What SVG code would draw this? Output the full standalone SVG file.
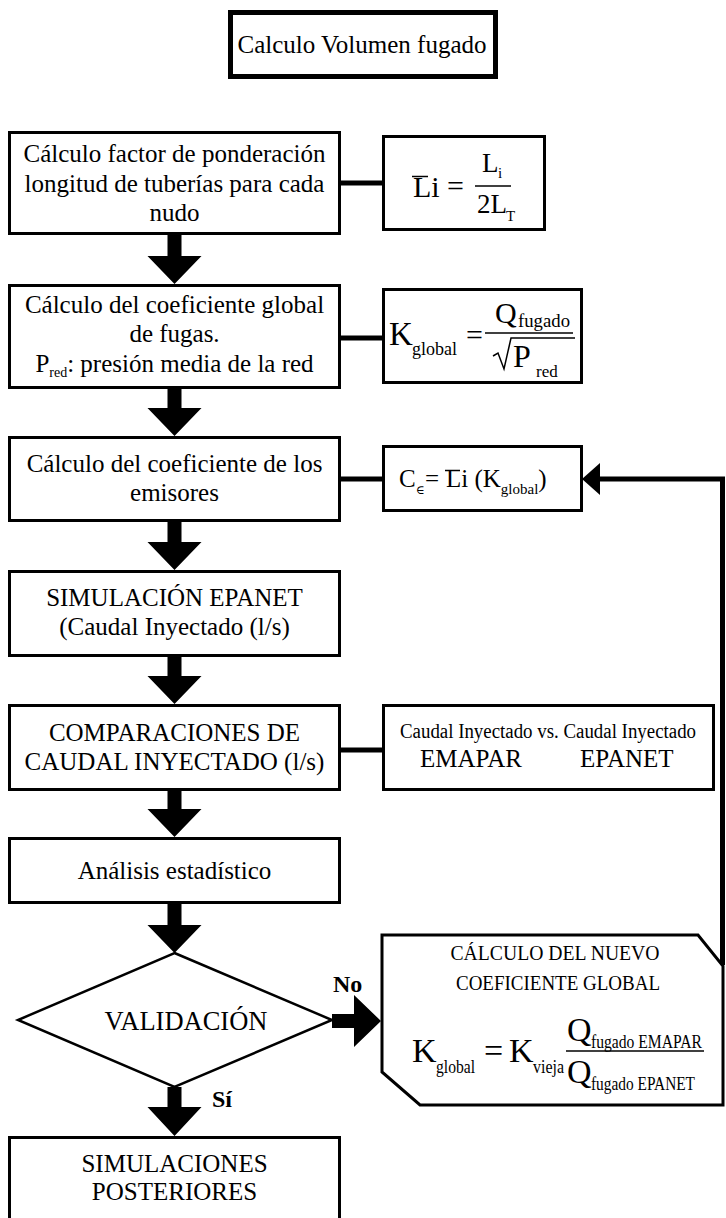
<svg xmlns="http://www.w3.org/2000/svg" width="726" height="1218" viewBox="0 0 726 1218">
<style>
  text { font-family: 'Liberation Serif', 'Times New Roman', 'DejaVu Serif', serif; fill: #000; }
  .t { font-size: 25px; }
  .c { text-anchor: middle; }
  .box { fill: #fff; stroke: #000; stroke-width: 3; }
  .thick { fill: #fff; stroke: #000; stroke-width: 5; }
  .conn { stroke: #000; stroke-width: 5; fill: none; }
  .frac { stroke: #000; stroke-width: 1.5; }
  .blk { fill: #000; stroke: none; }
  .b { font-weight: bold; font-size: 24px; }
</style>
<rect width="726" height="1218" fill="#fff"/>

<g id="title">
  <rect class="thick" x="230.5" y="12.5" width="265" height="64"/>
  <text class="t c" x="362" y="53">Calculo Volumen fugado</text>
</g>

<g id="connectors">
  <line class="conn" x1="340" y1="183" x2="383" y2="183"/>
  <line class="conn" x1="340" y1="338" x2="383" y2="338"/>
  <line class="conn" x1="340" y1="479" x2="383" y2="479"/>
  <line class="conn" x1="340" y1="750" x2="383" y2="750"/>
  <polyline class="conn" points="722.5,965 722.5,479 597,479"/>
  <polygon class="blk" points="582,479 600,463 600,495"/>
  <polygon class="blk" points="167.5,234 181.5,234 181.5,256 201.5,256 174.5,284 147.5,256 167.5,256"/>
  <polygon class="blk" points="167.5,388 181.5,388 181.5,408 201.5,408 174.5,436 147.5,408 167.5,408"/>
  <polygon class="blk" points="167.5,521 181.5,521 181.5,542 201.5,542 174.5,570 147.5,542 167.5,542"/>
  <polygon class="blk" points="167.5,656 181.5,656 181.5,676 201.5,676 174.5,704 147.5,676 167.5,676"/>
  <polygon class="blk" points="167.5,790 181.5,790 181.5,809 201.5,809 174.5,837 147.5,809 167.5,809"/>
  <polygon class="blk" points="167.5,903 181.5,903 181.5,925 201.5,925 174.5,953 147.5,925 167.5,925"/>
  <polygon class="blk" points="167.5,1087 181.5,1087 181.5,1107 201.5,1107 174.5,1136 147.5,1107 167.5,1107"/>
  <polygon class="blk" points="332,1014 354,1014 354,995 381,1021 354,1047 354,1028 332,1028"/>
  <text class="b" x="333" y="992">No</text>
  <text class="b" x="212" y="1107">Sí</text>
</g>

<g id="node1">
  <rect class="box" x="9.5" y="132.5" width="330" height="101"/>
  <text class="t c" x="174.5" y="162">Cálculo factor de ponderación</text>
  <text class="t c" x="174.5" y="191.5">longitud de tuberías para cada</text>
  <text class="t c" x="174.5" y="221">nudo</text>
</g>

<g id="formula1">
  <rect class="box" x="383.5" y="136.5" width="161" height="93"/>
  <text x="413" y="197" font-size="30">Li</text>
  <line class="frac" x1="412" y1="176.5" x2="428" y2="176.5"/>
  <text x="447" y="196" font-size="30">=</text>
  <line class="frac" x1="475" y1="186" x2="511" y2="186"/>
  <text x="482" y="172" font-size="27">L</text>
  <text x="498" y="178" font-size="15">i</text>
  <text x="477" y="213" font-size="27">2L</text>
  <text x="506" y="221" font-size="15">T</text>
</g>

<g id="node2">
  <rect class="box" x="9.5" y="285.5" width="330" height="102"/>
  <text class="t c" x="174.5" y="313">Cálculo del coeficiente global</text>
  <text class="t c" x="174.5" y="342">de fugas.</text>
  <text class="t c" x="174.5" y="372">P<tspan font-size="14" dy="5">red</tspan><tspan dy="-5">: presión media de la red</tspan></text>
</g>

<g id="formula2">
  <rect class="box" x="383.5" y="289.5" width="198" height="93"/>
  <text x="389" y="345" font-size="33">K</text>
  <text x="412" y="355" font-size="18" textLength="45" lengthAdjust="spacingAndGlyphs">global</text>
  <text x="466" y="345" font-size="30">=</text>
  <line class="frac" x1="485" y1="333" x2="573" y2="333"/>
  <text x="495" y="323" font-size="30">Q</text>
  <text x="518" y="327" font-size="18" textLength="52" lengthAdjust="spacingAndGlyphs">fugado</text>
  <polyline points="493,356 498,353 504,369 511,338 575,338" fill="none" stroke="#000" stroke-width="1.5"/>
  <text x="513" y="367" font-size="32">P</text>
  <text x="536" y="377" font-size="17">red</text>
</g>

<g id="node3">
  <rect class="box" x="9.5" y="437.5" width="330" height="83"/>
  <text class="t c" x="174.5" y="472">Cálculo del coeficiente de los</text>
  <text class="t c" x="174.5" y="501">emisores</text>
</g>

<g id="formula3">
  <rect class="box" x="383.5" y="446.5" width="198" height="64"/>
  <text class="t" x="399" y="487">C</text>
  <text x="416" y="494" font-size="12">∈</text>
  <text class="t" x="425" y="487">=</text>
  <text class="t" x="446" y="487">Li (K<tspan font-size="15" dy="7">global</tspan><tspan dy="-7">)</tspan></text>
  <line class="frac" x1="445" y1="470.5" x2="460" y2="470.5"/>
</g>

<g id="node4">
  <rect class="box" x="9.5" y="571.5" width="330" height="84"/>
  <text class="t c" x="174.5" y="606">SIMULACIÓN EPANET</text>
  <text class="t c" x="174.5" y="635">(Caudal Inyectado (l/s)</text>
</g>

<g id="node5">
  <rect class="box" x="9.5" y="705.5" width="330" height="84"/>
  <text class="t c" x="174.5" y="741">COMPARACIONES DE</text>
  <text class="t c" x="174.5" y="770">CAUDAL INYECTADO (l/s)</text>
</g>

<g id="compare">
  <rect class="box" x="383.5" y="705.5" width="330" height="84"/>
  <text x="400" y="738" font-size="20" textLength="296" lengthAdjust="spacingAndGlyphs">Caudal Inyectado vs. Caudal Inyectado</text>
  <text class="t" x="420" y="767">EMAPAR</text>
  <text class="t" x="580" y="767">EPANET</text>
</g>

<g id="node6">
  <rect class="box" x="9.5" y="838.5" width="330" height="64"/>
  <text class="t c" x="174.5" y="879">Análisis estadístico</text>
</g>

<g id="validacion">
  <polygon points="174.5,953 332,1020 174.5,1087 18,1020" fill="#fff" stroke="#000" stroke-width="2.5"/>
  <text class="c" x="186" y="1030" font-size="26.5">VALIDACIÓN</text>
</g>

<g id="nuevo">
  <polygon class="box" points="382,935 698,935 723,966 723,1105 420,1105 382,1072"/>
  <text class="c" x="555" y="960" font-size="20" textLength="209" lengthAdjust="spacingAndGlyphs">CÁLCULO DEL NUEVO</text>
  <text class="c" x="558" y="990" font-size="20" textLength="204" lengthAdjust="spacingAndGlyphs">COEFICIENTE GLOBAL</text>
  <text x="412" y="1062" font-size="34">K</text>
  <text x="436" y="1073" font-size="19" textLength="39" lengthAdjust="spacingAndGlyphs">global</text>
  <text x="484" y="1062" font-size="34">=</text>
  <text x="509" y="1062" font-size="34">K</text>
  <text x="533" y="1073" font-size="19" textLength="31" lengthAdjust="spacingAndGlyphs">vieja</text>
  <line class="frac" x1="566" y1="1051" x2="704" y2="1051"/>
  <text x="567" y="1041" font-size="34">Q</text>
  <text x="591" y="1048" font-size="19" textLength="111" lengthAdjust="spacingAndGlyphs">fugado EMAPAR</text>
  <text x="567" y="1083" font-size="34">Q</text>
  <text x="591" y="1090" font-size="19" textLength="104" lengthAdjust="spacingAndGlyphs">fugado EPANET</text>
</g>

<g id="node7">
  <rect class="box" x="9.5" y="1137.5" width="330" height="100"/>
  <text class="t c" x="174.5" y="1172">SIMULACIONES</text>
  <text class="t c" x="174.5" y="1200">POSTERIORES</text>
</g>
</svg>
